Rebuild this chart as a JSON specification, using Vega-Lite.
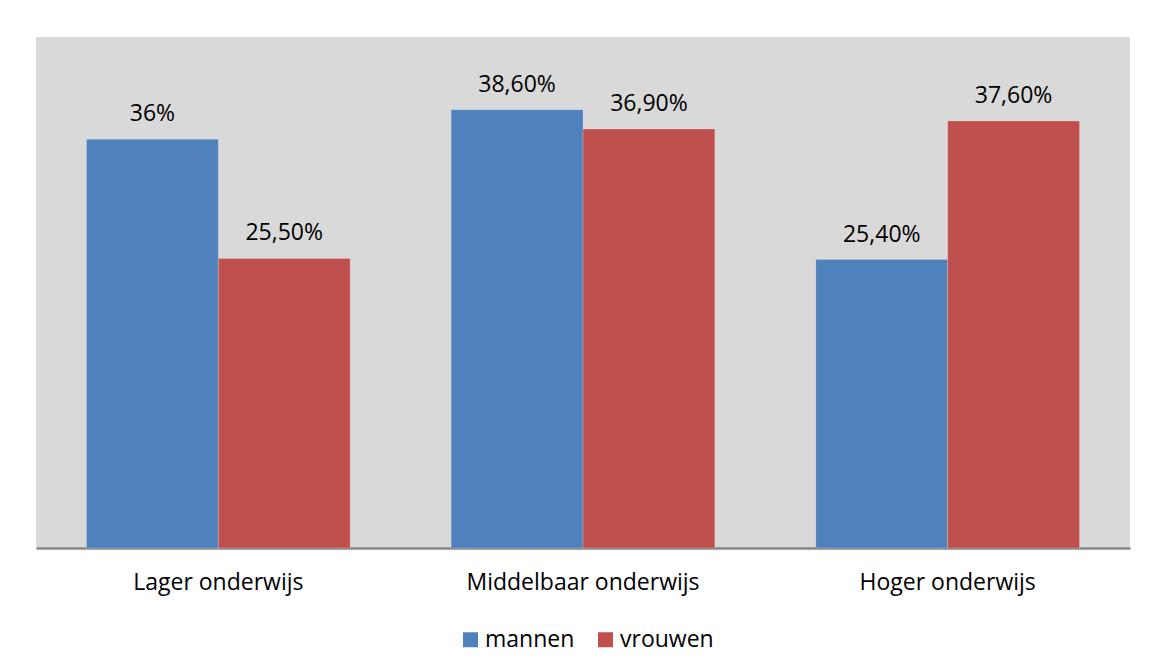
{
  "$schema": "https://vega.github.io/schema/vega-lite/v6.json",
  "autosize": {"type": "none"},
  "width": 1094,
  "height": 511,
  "padding": {"left": 36, "top": 37, "right": 27, "bottom": 122},
  "background": "white",
  "config": {
    "view": {"fill": "#d9d9d9", "stroke": null},
    "font": "Open Sans"
  },
  "data": {
    "values": [
      {"niveau": "Lager onderwijs", "geslacht": "mannen", "pct": 36.0, "label": "36%"},
      {"niveau": "Lager onderwijs", "geslacht": "vrouwen", "pct": 25.5, "label": "25,50%"},
      {"niveau": "Middelbaar onderwijs", "geslacht": "mannen", "pct": 38.6, "label": "38,60%"},
      {"niveau": "Middelbaar onderwijs", "geslacht": "vrouwen", "pct": 36.9, "label": "36,90%"},
      {"niveau": "Hoger onderwijs", "geslacht": "mannen", "pct": 25.4, "label": "25,40%"},
      {"niveau": "Hoger onderwijs", "geslacht": "vrouwen", "pct": 37.6, "label": "37,60%"}
    ]
  },
  "encoding": {
    "x": {
      "field": "niveau", "type": "nominal", "sort": null,
      "scale": {"paddingInner": 0.277, "paddingOuter": 0.1385},
      "axis": {
        "title": null, "labelAngle": 0, "ticks": false, "labelLimit": 0,
        "domainColor": "#868686", "domainWidth": 2.5,
        "labelFontSize": 23, "labelColor": "#000000", "labelPadding": 23,
        "labelFont": "Open Sans"
      }
    },
    "xOffset": {"field": "geslacht", "type": "nominal", "sort": ["mannen", "vrouwen"], "scale": {"paddingInner": 0, "paddingOuter": 0}},
    "y": {
      "field": "pct", "type": "quantitative",
      "scale": {"domain": [0, 45], "nice": false},
      "axis": null
    }
  },
  "layer": [
    {
      "mark": {"type": "bar", "stroke": "white", "strokeWidth": 0.5, "strokeOpacity": 0.4},
      "encoding": {
        "color": {
          "field": "geslacht", "type": "nominal",
          "scale": {"domain": ["mannen", "vrouwen"], "range": ["#4f81bd", "#c0504d"]},
          "legend": {
            "title": null, "orient": "none", "direction": "horizontal",
            "legendX": 423, "legendY": 591,
            "symbolType": "square", "symbolSize": 225, "symbolStrokeWidth": 0,
            "labelFontSize": 23, "labelColor": "#000000", "labelFont": "Open Sans",
            "columnPadding": 19, "symbolOffset": 0, "labelOffset": 3
          }
        }
      }
    },
    {
      "mark": {"type": "text", "baseline": "bottom", "dy": -13, "fontSize": 23, "color": "#000000"},
      "encoding": {"text": {"field": "label"}}
    }
  ]
}
